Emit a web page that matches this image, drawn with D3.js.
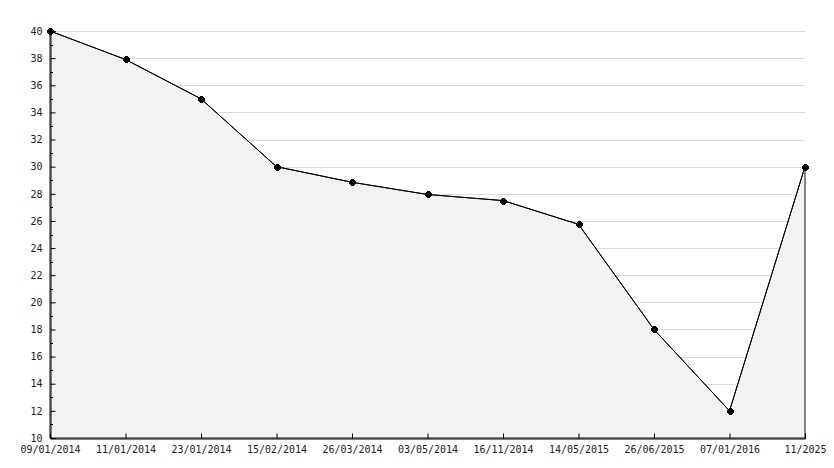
<!DOCTYPE html>
<html>
<head>
<meta charset="utf-8">
<script src="https://cdn.jsdelivr.net/npm/d3@7"></script>
<style>
  body { margin: 0; background: #fff; }
  svg text { font-family: "DejaVu Sans Mono", monospace; font-size: 10px; fill: #222; }
</style>
</head>
<body>
<svg width="834" height="468"></svg>
<script>
const dates = ["09/01/2014", "11/01/2014", "23/01/2014", "15/02/2014", "26/03/2014",
  "03/05/2014", "16/11/2014", "14/05/2015", "26/06/2015", "07/01/2016", "11/2025"];
const values = [40, 37.9, 35, 30, 28.85, 27.95, 27.5, 25.75, 18, 12, 30];
const yTicks = d3.range(10, 41, 2);
const yMinor = d3.range(11, 40, 2);

const margin = { left: 50, right: 29, top: 31, bottom: 30 };
const width = 834, height = 468;
const svg = d3.select("svg");

const x = d3.scalePoint().domain(dates).range([margin.left, width - margin.right]);
const y = d3.scaleLinear().domain([10, 40]).range([height - margin.bottom, margin.top]);

const data = dates.map((d, i) => ({ date: d, value: values[i] }));

// grid
svg.append("g").selectAll("line")
  .data(yTicks.filter(t => t > 10))
  .join("line")
  .attr("x1", margin.left).attr("x2", width - margin.right)
  .attr("y1", d => Math.round(y(d)) + 0.5).attr("y2", d => Math.round(y(d)) + 0.5)
  .attr("stroke", "#dcdcdc");

// area
const area = d3.area().x(d => x(d.date)).y0(y(10)).y1(d => y(d.value));
svg.append("path").datum(data)
  .attr("d", area)
  .attr("fill", "#f2f2f2")
  .attr("stroke", "#111")
  .attr("stroke-width", 1);

// line
const line = d3.line().x(d => x(d.date)).y(d => y(d.value));
svg.append("path").datum(data)
  .attr("d", line)
  .attr("fill", "none")
  .attr("stroke", "#000")
  .attr("stroke-width", 1);

// y axis
const yAxis = svg.append("g").attr("transform", `translate(${margin.left + 0.5},0)`)
  .call(d3.axisLeft(y).tickValues(yTicks).tickSize(-5).tickPadding(8).tickFormat(d3.format("d")));
yAxis.select(".domain").attr("stroke", "#000");
yAxis.selectAll(".tick line").attr("stroke", "#000");
yAxis.selectAll("text").attr("x", -8);
svg.append("g").selectAll("line")
  .data(yMinor)
  .join("line")
  .attr("x1", margin.left).attr("x2", margin.left + 3)
  .attr("y1", d => Math.round(y(d)) + 0.5).attr("y2", d => Math.round(y(d)) + 0.5)
  .attr("stroke", "#000");

// x axis
const xAxis = svg.append("g").attr("transform", `translate(0,${y(10) + 0.5})`)
  .call(d3.axisBottom(x).tickSize(-5).tickPadding(6));
xAxis.select(".domain").attr("stroke", "#000");
xAxis.selectAll(".tick line").attr("stroke", "#000");
xAxis.selectAll("text").attr("y", 7);

// markers: small star blob built from three rects
const mk = svg.append("g").selectAll("g")
  .data(data)
  .join("g")
  .attr("transform", d => `translate(${Math.round(x(d.date))},${Math.round(y(d.value))})`);
[[7, 3], [3, 7], [5, 5]].forEach(([w, h]) => {
  mk.append("rect")
    .attr("x", -w / 2 + 0.5).attr("y", -h / 2 + 0.5)
    .attr("width", w).attr("height", h)
    .attr("fill", "#000");
});
</script>
</body>
</html>
